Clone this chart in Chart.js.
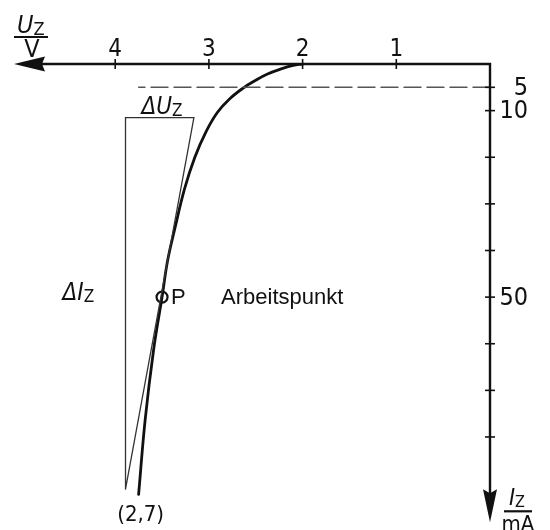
<!DOCTYPE html>
<html>
<head>
<meta charset="utf-8">
<script src="https://cdn.jsdelivr.net/npm/chart.js@4/dist/chart.umd.min.js"></script>
<style>
  html, body { margin: 0; padding: 0; background: #fff; }
  #wrap { width: 550px; height: 530px; }
</style>
</head>
<body>
<div id="wrap"><canvas id="c" width="550" height="530"></canvas></div>
<script>
// Zener diode characteristic: reverse voltage U_Z (V) vs. reverse current I_Z (mA)
const uZ = [2.0, 2.1, 2.22, 2.38, 2.51, 2.63, 2.78, 2.91, 3.03, 3.15, 3.26, 3.36, 3.44, 3.5, 3.59, 3.68, 3.75];
const iZ = [0, 0.3, 1.0, 2.2, 3.6, 5.1, 7.5, 10.4, 14.5, 20.0, 26.8, 35.0, 42.1, 50, 61.3, 76.3, 92.3];

// operating point P and the tangent triangle (ΔU_Z, ΔI_Z)
const pointU = [3.5];
const pointI = [50];
const triangleU = [3.89, 3.89, 3.16, 3.89];
const triangleI = [91.2, 11.5, 11.5, 91.2];

// knee current marker line at 5 mA
const kneeU = [0, 3.75];
const kneeI = [5, 5];

// axis ticks and labels
const uTicks = [1, 2, 3, 4];
const uTickLabels = ['1', '2', '3', '4'];
const iTicks = [5, 10, 20, 30, 40, 50, 60, 70, 80];
const iTickLabels = ['5', '10', '', '', '', '50', '', '', ''];
const uMax = 5.08;
const iMax = 98.3;

const pts = (xs, ys) => xs.map((x, k) => ({ x, y: ys[k] }));

const DIN = "'Liberation Sans Narrow','DejaVu Sans Condensed','Liberation Sans',sans-serif";
const SANS = "'Liberation Sans',Arial,sans-serif";
const INK = '#111';

function subText(ctx, main, sub, x, y, size, italic) {
  ctx.font = (italic ? 'italic ' : '') + size + 'px ' + DIN;
  ctx.textAlign = 'left';
  ctx.textBaseline = 'alphabetic';
  ctx.fillText(main, x, y);
  const w = ctx.measureText(main).width;
  ctx.font = Math.round(size * 0.7) + 'px ' + DIN;
  ctx.fillText(sub, x + w, y + 2);
  return w + ctx.measureText(sub).width;
}

// axes with arrowheads, crossing tick marks, labels and annotations
const axesPlugin = {
  id: 'arrowAxes',
  afterDatasetsDraw(chart) {
    const { ctx } = chart;
    const xs = chart.scales.x, ys = chart.scales.y;
    const x0 = xs.getPixelForValue(0), y0 = ys.getPixelForValue(0);
    const xEnd = xs.getPixelForValue(uMax), yEnd = ys.getPixelForValue(iMax);
    ctx.save();
    ctx.strokeStyle = INK; ctx.fillStyle = INK;
    ctx.lineWidth = 2.4;
    ctx.lineCap = 'butt';
    ctx.beginPath();
    ctx.moveTo(xEnd + 20, y0); ctx.lineTo(x0, y0); ctx.lineTo(x0, yEnd - 20);
    ctx.stroke();
    ctx.beginPath();
    ctx.moveTo(xEnd, y0); ctx.lineTo(xEnd + 31, y0 - 7.5); ctx.lineTo(xEnd + 28, y0); ctx.lineTo(xEnd + 31, y0 + 7.5);
    ctx.closePath(); ctx.fill();
    ctx.beginPath();
    ctx.moveTo(x0, yEnd); ctx.lineTo(x0 - 7, yEnd - 33); ctx.lineTo(x0, yEnd - 29); ctx.lineTo(x0 + 7, yEnd - 33);
    ctx.closePath(); ctx.fill();
    ctx.lineWidth = 1.6;
    uTicks.forEach((v) => {
      const px = xs.getPixelForValue(v);
      ctx.beginPath(); ctx.moveTo(px, y0 - 5); ctx.lineTo(px, y0 + 5); ctx.stroke();
    });
    iTicks.forEach((v) => {
      const py = ys.getPixelForValue(v);
      ctx.beginPath(); ctx.moveTo(x0 - 5, py); ctx.lineTo(x0 + 5, py); ctx.stroke();
    });
    ctx.font = '24px ' + DIN;
    ctx.textAlign = 'center'; ctx.textBaseline = 'alphabetic';
    uTicks.forEach((v, k) => ctx.fillText(uTickLabels[k], xs.getPixelForValue(v), y0 - 8));
    ctx.font = '25px ' + DIN;
    ctx.textAlign = 'right'; ctx.textBaseline = 'middle';
    iTicks.forEach((v, k) => {
      if (iTickLabels[k]) ctx.fillText(iTickLabels[k], x0 + 38, ys.getPixelForValue(v) + 1);
    });
    ctx.textBaseline = 'alphabetic';
    subText(ctx, 'U', 'Z', xEnd + 3, y0 - 31, 25, true);
    ctx.lineWidth = 2.2;
    ctx.beginPath(); ctx.moveTo(xEnd, y0 - 27); ctx.lineTo(xEnd + 34, y0 - 27); ctx.stroke();
    ctx.font = '25px ' + DIN; ctx.textAlign = 'center';
    ctx.fillText('V', xEnd + 18, y0 - 7);

    subText(ctx, 'I', 'Z', x0 + 19, yEnd - 17, 23, true);
    ctx.beginPath(); ctx.moveTo(x0 + 14, yEnd - 11); ctx.lineTo(x0 + 42, yEnd - 11); ctx.stroke();
    ctx.font = '22px ' + DIN; ctx.textAlign = 'center';
    ctx.fillText('mA', x0 + 28, yEnd + 9);

    const tTop = ys.getPixelForValue(triangleI[1]);
    const tLeft = xs.getPixelForValue(triangleU[1]);
    subText(ctx, 'ΔU', 'Z', tLeft + 16, tTop - 4, 24, true);
    const pY = ys.getPixelForValue(pointI[0]);
    subText(ctx, 'ΔI', 'Z', tLeft - 63, pY + 3, 24, true);
    const bx = xs.getPixelForValue(uZ[uZ.length - 1]);
    const by = ys.getPixelForValue(iZ[iZ.length - 1]);
    ctx.font = '22px ' + DIN; ctx.textAlign = 'center';
    ctx.fillText('(2,7)', bx + 2, by + 27);

    const pX = xs.getPixelForValue(pointU[0]);
    ctx.font = '22px ' + SANS; ctx.textAlign = 'left'; ctx.textBaseline = 'middle';
    ctx.fillText('P', pX + 9, pY + 1);
    ctx.fillText('Arbeitspunkt', pX + 59, pY + 1);
    ctx.restore();
  }
};

new Chart(document.getElementById('c'), {
  type: 'scatter',
  data: {
    datasets: [
      {
        data: pts(kneeU, kneeI), showLine: true, pointRadius: 0,
        borderColor: '#555', borderWidth: 1.4, borderDash: [17, 6]
      },
      {
        data: pts(triangleU, triangleI), showLine: true, pointRadius: 0,
        borderColor: '#333', borderWidth: 1.3, tension: 0
      },
      {
        data: pts(uZ, iZ), showLine: true, pointRadius: 0,
        borderColor: INK, borderWidth: 2.8, tension: 0.4
      },
      {
        data: pts(pointU, pointI), showLine: false, pointStyle: 'circle',
        pointRadius: 5.5, borderColor: INK, borderWidth: 2.2, backgroundColor: '#fff'
      },
      {
        data: pts(pointU, pointI), showLine: false, pointStyle: 'cross',
        pointRadius: 5, borderColor: INK, borderWidth: 1.8
      }
    ]
  },
  options: {
    responsive: false,
    animation: false,
    layout: { padding: { left: 14, right: 60, top: 64, bottom: 7 } },
    scales: {
      x: { type: 'linear', reverse: true, min: 0, max: uMax, display: false },
      y: { type: 'linear', reverse: true, min: 0, max: iMax, display: false }
    },
    plugins: { legend: { display: false }, tooltip: { enabled: false } },
    elements: { line: { borderCapStyle: 'round' } }
  },
  plugins: [axesPlugin]
});
</script>
</body>
</html>
